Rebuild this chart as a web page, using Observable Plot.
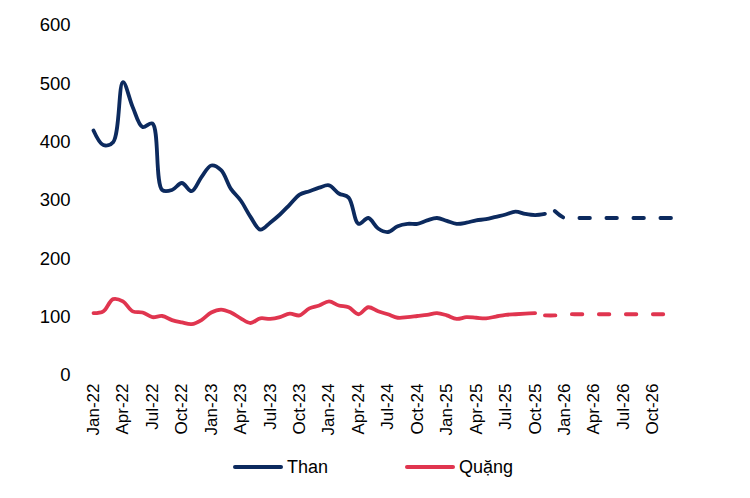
<!DOCTYPE html>
<html>
<head>
<meta charset="utf-8">
<script src="https://cdn.jsdelivr.net/npm/d3@7"></script>
<script src="https://cdn.jsdelivr.net/npm/@observablehq/plot@0.6"></script>
<style>
  body { margin: 0; background: #fff; font-family: Arial, "Liberation Sans", sans-serif; }
  #legend { display: flex; align-items: center; height: 20px; margin-top: 17px; padding-left: 233px; font-size: 18px; color: #000; }
  .item { display: flex; align-items: center; }
  .swatch { width: 50px; height: 3.8px; border-radius: 2px; margin-right: 4px; }
</style>
</head>
<body>
<div id="chart"></div>
<div id="legend"></div>
<script>
const tickLabels = ["Jan-22","Apr-22","Jul-22","Oct-22","Jan-23","Apr-23","Jul-23","Oct-23",
  "Jan-24","Apr-24","Jul-24","Oct-24","Jan-25","Apr-25","Jul-25","Oct-25",
  "Jan-26","Apr-26","Jul-26","Oct-26"];

// Monthly values from Jan-22
const than = [420, 395, 400, 503, 460, 426, 432, 318, 318, 330, 316, 340,
  360, 352, 320, 300, 272, 250, 262, 276, 293, 310, 316, 322,
  326, 312, 305, 260, 270, 252, 246, 256, 260, 260, 266, 270,
  265, 260, 262, 266, 268, 272, 276, 281, 277, 275, 277];
const thanForecastStart = 47; // Dec-25
const thanForecast = [282, 270, 270, 270, 270, 270, 270, 270, 270, 270, 270, 270, 270];

const quang = [107, 110, 131, 127, 110, 108, 100, 102, 95, 91, 88, 95,
  108, 113, 108, 98, 90, 98, 97, 100, 106, 103, 115, 120,
  127, 120, 117, 105, 117, 110, 105, 99, 100, 102, 104, 107,
  103, 97, 100, 99, 98, 101, 104, 105, 106, 107];
const quangForecastStart = 46; // Nov-25
const quangForecast = [103, 103, 105, 105, 105, 105, 105, 105, 105, 105, 105, 105, 105, 105];

const seriesNames = ["Than", "Quặng"];
const colors = ["#0c2a5e", "#e0354f"];

const rows = (arr, start) => arr.map((v, k) => ({i: start + k, v}));

const lineOpts = {x: "i", y: "v", curve: "catmull-rom", strokeWidth: 3.8, strokeLinejoin: "round", strokeLinecap: "round"};

const chart = Plot.plot({
  width: 750,
  height: 440,
  marginLeft: 93,
  marginRight: 78,
  marginTop: 25,
  marginBottom: 65,
  style: {fontFamily: "Arial, 'Liberation Sans', sans-serif", color: "#000", background: "#fff"},
  x: {domain: [0, 59]},
  y: {domain: [0, 600]},
  marks: [
    Plot.axisY({ticks: [0, 100, 200, 300, 400, 500, 600], tickSize: 0, tickPadding: 23, fontSize: 18.5, label: null}),
    Plot.axisX({ticks: d3.range(0, 60, 3), tickFormat: i => tickLabels[i / 3], tickRotate: -90, tickSize: 0, tickPadding: 8, fontSize: 17, label: null}),
    Plot.line(rows(than, 0), {...lineOpts, stroke: colors[0]}),
    Plot.line(rows(thanForecast, thanForecastStart), {...lineOpts, stroke: colors[0], strokeDasharray: "10.5,16.5"}),
    Plot.line(rows(quang, 0), {...lineOpts, stroke: colors[1]}),
    Plot.line(rows(quangForecast, quangForecastStart), {...lineOpts, stroke: colors[1], strokeDasharray: "10.5,16.5"})
  ]
});
document.getElementById("chart").appendChild(chart);

const legend = document.getElementById("legend");
seriesNames.forEach((name, k) => {
  const item = document.createElement("div");
  item.className = "item";
  if (k === 0) item.style.width = "172px";
  const sw = document.createElement("div");
  sw.className = "swatch";
  sw.style.background = colors[k];
  const label = document.createElement("span");
  label.textContent = name;
  item.appendChild(sw);
  item.appendChild(label);
  legend.appendChild(item);
});
</script>
</body>
</html>
